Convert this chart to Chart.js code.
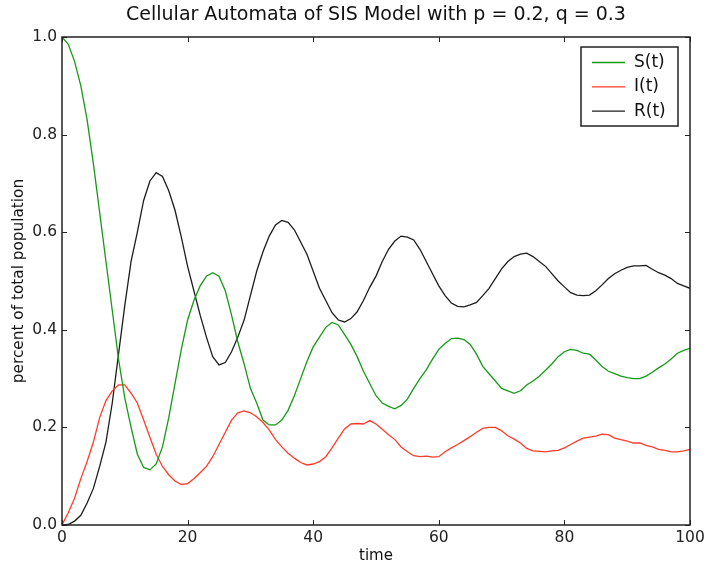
<!DOCTYPE html>
<html>
<head>
<meta charset="utf-8">
<script src="https://cdn.jsdelivr.net/npm/chart.js@4.4.1/dist/chart.umd.min.js"></script>
<style>
  html, body { margin: 0; padding: 0; background: #fff; }
  #chart { display: block; }
</style>
</head>
<body>
<canvas id="chart" width="706" height="569"></canvas>
<script>
// --- Data ---
const TIME = [0,1,2,3,4,5,6,7,8,9,10,11,12,13,14,15,16,17,18,19,20,
  21,22,23,24,25,26,27,28,29,30,31,32,33,34,35,36,37,38,39,40,
  41,42,43,44,45,46,47,48,49,50,51,52,53,54,55,56,57,58,59,60,
  61,62,63,64,65,66,67,68,69,70,71,72,73,74,75,76,77,78,79,80,
  81,82,83,84,85,86,87,88,89,90,91,92,93,94,95,96,97,98,99,100];

const S_VALUES = [1.0,0.985,0.95,0.90,0.83,0.74,0.64,0.54,0.44,0.34,0.26,
  0.20,0.145,0.118,0.113,0.125,0.16,0.22,0.29,0.36,0.42,
  0.46,0.49,0.51,0.517,0.51,0.48,0.43,0.375,0.33,0.28,
  0.25,0.215,0.205,0.205,0.215,0.235,0.265,0.30,0.335,0.365,
  0.385,0.405,0.415,0.41,0.39,0.37,0.345,0.315,0.29,0.265,
  0.25,0.243,0.238,0.245,0.258,0.28,0.30,0.318,0.34,0.36,
  0.372,0.382,0.383,0.38,0.37,0.35,0.325,0.31,0.295,0.28,
  0.275,0.27,0.275,0.287,0.295,0.305,0.317,0.33,0.345,0.355,
  0.36,0.358,0.352,0.35,0.338,0.325,0.315,0.31,0.305,0.302,
  0.30,0.30,0.305,0.313,0.322,0.33,0.34,0.352,0.358,0.362];

const I_VALUES = [0.0,0.025,0.055,0.095,0.13,0.17,0.22,0.255,0.275,0.287,0.287,
  0.27,0.25,0.215,0.18,0.145,0.12,0.103,0.09,0.083,0.085,
  0.095,0.107,0.12,0.14,0.165,0.19,0.215,0.23,0.234,0.23,
  0.222,0.21,0.195,0.175,0.16,0.147,0.137,0.128,0.123,0.125,
  0.13,0.14,0.158,0.178,0.197,0.207,0.208,0.207,0.214,0.207,
  0.196,0.185,0.175,0.16,0.15,0.142,0.14,0.141,0.139,0.14,
  0.15,0.158,0.165,0.173,0.181,0.19,0.198,0.20,0.20,0.193,
  0.183,0.176,0.168,0.157,0.152,0.151,0.15,0.152,0.153,0.158,
  0.165,0.172,0.178,0.18,0.182,0.186,0.185,0.178,0.175,0.172,
  0.168,0.168,0.163,0.16,0.155,0.153,0.15,0.15,0.152,0.155];

const R_VALUES = [0.0,0.001,0.008,0.02,0.045,0.075,0.12,0.17,0.25,0.35,0.45,
  0.54,0.60,0.665,0.705,0.722,0.714,0.685,0.645,0.59,0.53,
  0.48,0.43,0.385,0.345,0.328,0.333,0.355,0.385,0.42,0.47,
  0.52,0.56,0.592,0.615,0.624,0.62,0.605,0.58,0.555,0.52,
  0.485,0.46,0.435,0.42,0.416,0.423,0.437,0.46,0.487,0.51,
  0.54,0.565,0.582,0.592,0.59,0.584,0.565,0.54,0.515,0.49,
  0.47,0.455,0.448,0.447,0.451,0.456,0.47,0.485,0.505,0.525,
  0.54,0.55,0.555,0.557,0.55,0.54,0.53,0.515,0.50,0.488,
  0.476,0.471,0.47,0.471,0.48,0.492,0.505,0.515,0.522,0.528,
  0.531,0.531,0.532,0.524,0.517,0.512,0.505,0.495,0.49,0.485];

const SERIES_LABELS = ['S(t)', 'I(t)', 'R(t)'];
const X_TICKS = [0, 20, 40, 60, 80, 100];
const Y_TICKS = [0.0, 0.2, 0.4, 0.6, 0.8, 1.0];

const COLORS = ['#169a16', '#ff3b2b', '#1c1c1c'];
const FONT = "'DejaVu Sans', sans-serif";

function toPoints(values) {
  return values.map((v, i) => ({ x: TIME[i], y: v }));
}

// frame, inward ticks and the boxed legend, drawn like the original
const framePlugin = {
  id: 'frame',
  afterDraw(chart) {
    const { ctx, chartArea: a, scales } = chart;
    ctx.save();
    ctx.strokeStyle = '#222';
    ctx.lineWidth = 1.5;
    ctx.strokeRect(a.left, a.top, a.right - a.left, a.bottom - a.top);

    ctx.lineWidth = 1;
    ctx.beginPath();
    X_TICKS.forEach(t => {
      const px = Math.round(scales.x.getPixelForValue(t)) + 0.5;
      ctx.moveTo(px, a.bottom); ctx.lineTo(px, a.bottom - 5);
      ctx.moveTo(px, a.top); ctx.lineTo(px, a.top + 5);
    });
    Y_TICKS.forEach(t => {
      const py = Math.round(scales.y.getPixelForValue(t)) + 0.5;
      ctx.moveTo(a.left, py); ctx.lineTo(a.left + 5, py);
      ctx.moveTo(a.right, py); ctx.lineTo(a.right - 5, py);
    });
    ctx.stroke();

    // legend box
    const bx = 581, by = 47, bw = 97, bh = 79;
    ctx.fillStyle = '#fff';
    ctx.fillRect(bx, by, bw, bh);
    ctx.strokeStyle = '#222';
    ctx.lineWidth = 1.5;
    ctx.strokeRect(bx, by, bw, bh);

    ctx.font = '17px ' + FONT;
    ctx.textBaseline = 'middle';
    ctx.textAlign = 'left';
    chart.data.datasets.forEach((ds, i) => {
      const y = 62.5 + i * 24.3;
      ctx.strokeStyle = ds.borderColor;
      ctx.lineWidth = 1.3;
      ctx.beginPath();
      ctx.moveTo(592, y); ctx.lineTo(625, y);
      ctx.stroke();
      ctx.fillStyle = '#111';
      ctx.fillText(ds.label, 634, y);
    });
    ctx.restore();
  }
};

new Chart(document.getElementById('chart'), {
  type: 'line',
  data: {
    datasets: [S_VALUES, I_VALUES, R_VALUES].map((vals, i) => ({
      label: SERIES_LABELS[i],
      data: toPoints(vals),
      borderColor: COLORS[i],
      borderWidth: 1.3,
      pointRadius: 0,
      tension: 0,
      fill: false
    }))
  },
  options: {
    responsive: false,
    devicePixelRatio: 1,
    animation: false,
    layout: { padding: { left: 0, right: 16, top: 0, bottom: 0 } },
    plugins: {
      legend: { display: false },
      tooltip: { enabled: false },
      title: {
        display: true,
        fullSize: false, // centre over the plot area, as matplotlib does
        text: 'Cellular Automata of SIS Model with p = 0.2, q = 0.3',
        color: '#111',
        font: { family: FONT, size: 19, weight: 'normal' },
        padding: { top: 4, bottom: 10.2 }
      }
    },
    scales: {
      x: {
        type: 'linear',
        min: 0,
        max: 100,
        afterFit: s => {
          s.height = 44;
          s.paddingLeft = 0;   // let the "100" label hang past the edge
          s.paddingRight = 0;
        },
        afterBuildTicks: s => { s.ticks = X_TICKS.map(v => ({ value: v })); },
        grid: { display: false, drawTicks: false },
        border: { display: false },
        ticks: {
          color: '#222',
          font: { family: FONT, size: 15.5 },
          padding: 4,
          maxRotation: 0,
          callback: v => String(v)
        },
        title: {
          display: true,
          text: 'time',
          color: '#111',
          font: { family: FONT, size: 15 },
          padding: { top: 0, bottom: 4 }
        }
      },
      y: {
        min: 0,
        max: 1,
        afterFit: s => { s.width = 62; },
        afterBuildTicks: s => { s.ticks = Y_TICKS.map(v => ({ value: v })); },
        grid: { display: false, drawTicks: false },
        border: { display: false },
        ticks: {
          color: '#222',
          font: { family: FONT, size: 15.5 },
          padding: 5,
          callback: v => Number(v).toFixed(1)
        },
        title: {
          display: true,
          text: 'percent of total population',
          color: '#111',
          font: { family: FONT, size: 15.3 },
          padding: { top: 10, bottom: 0 }
        }
      }
    }
  },
  plugins: [framePlugin]
});
</script>
</body>
</html>
